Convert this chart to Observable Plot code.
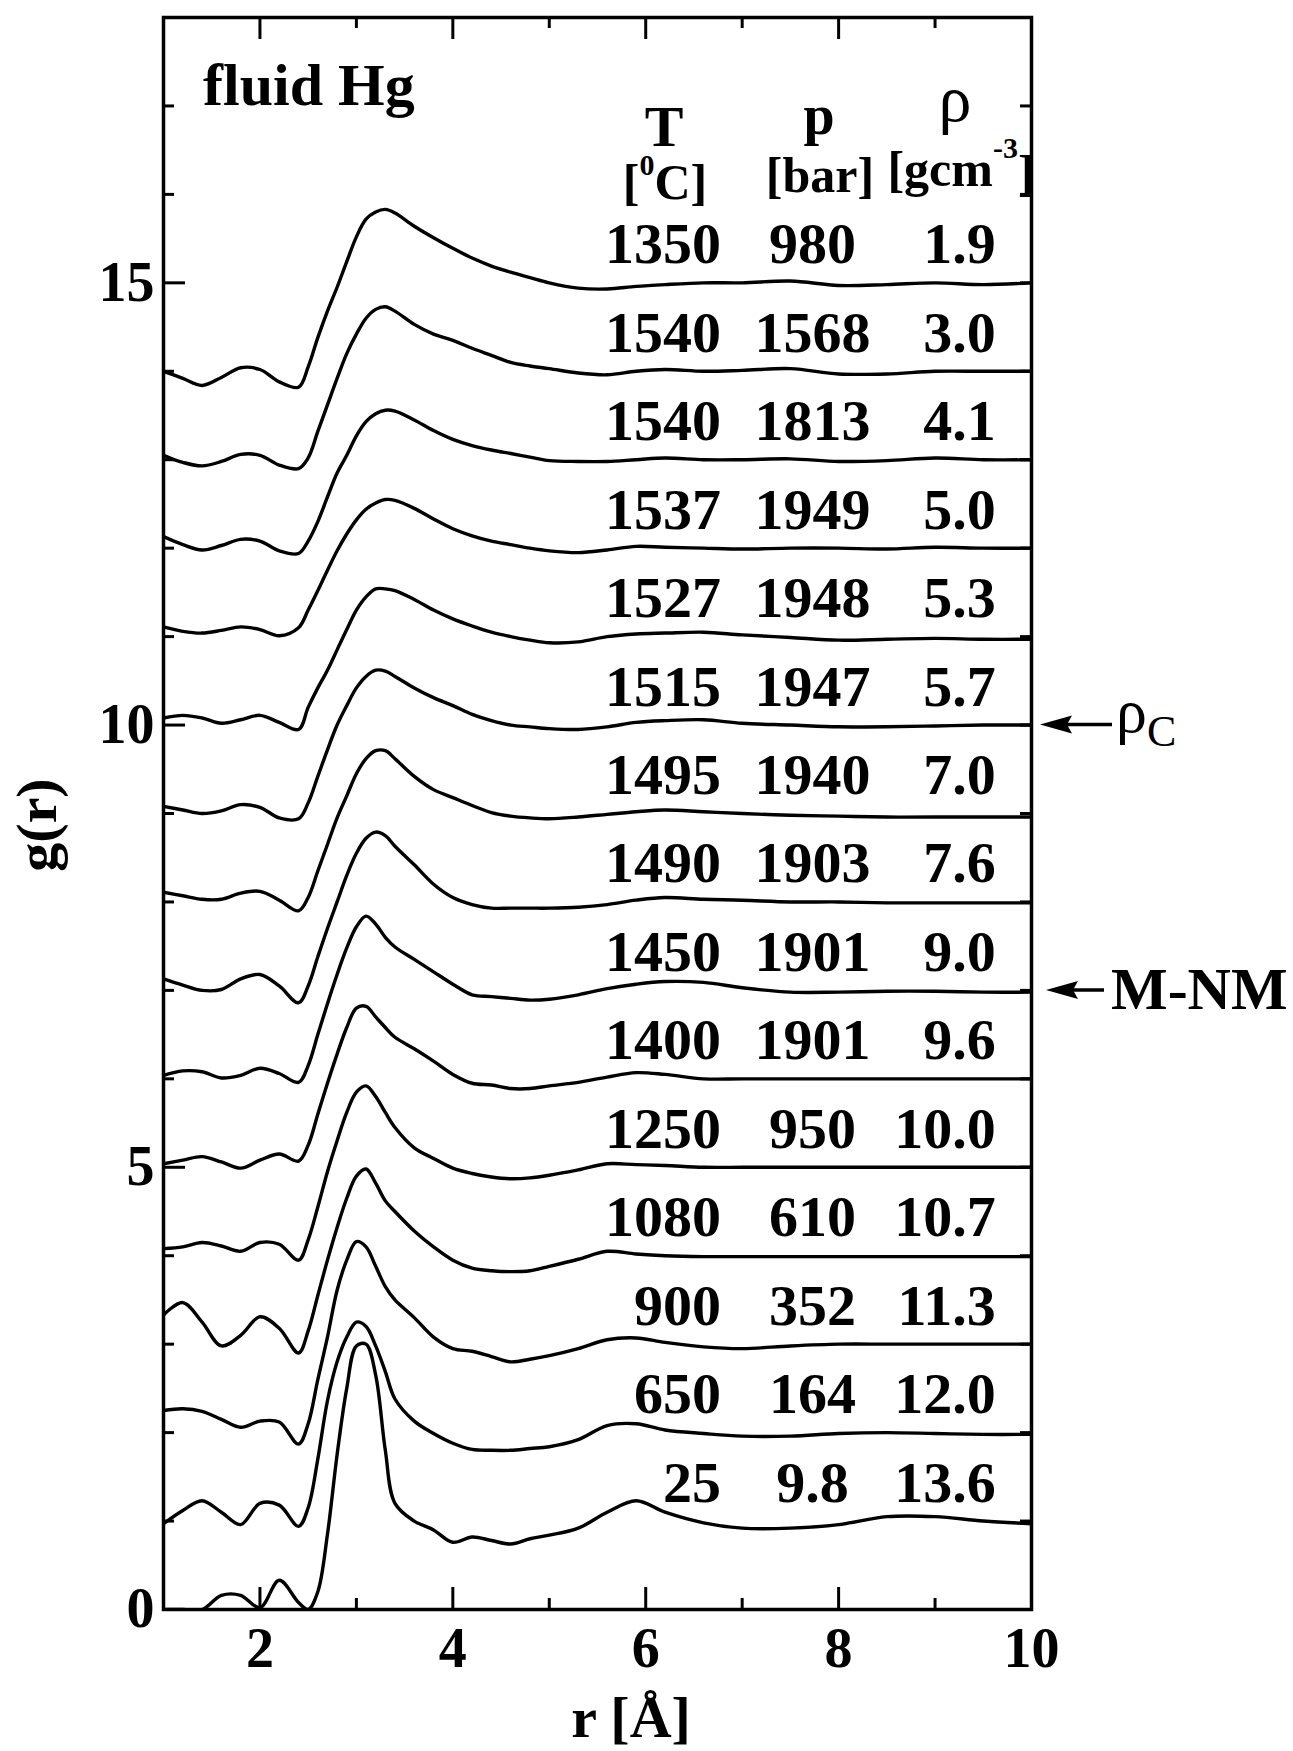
<!DOCTYPE html>
<html><head><meta charset="utf-8">
<script src="https://cdn.jsdelivr.net/npm/d3@7"></script>
<script src="https://cdn.jsdelivr.net/npm/@observablehq/plot@0.6"></script>
<style>html,body{margin:0;padding:0;background:#fff;}</style>
</head><body><div id="chart"></div>
<script>
// shared r grid (Å)
const rGrid = [1.0,1.2,1.4,1.6,1.8,2.0,2.2,2.4, 2.5,2.6,2.7,2.8,2.9,3.0,3.1,3.2,3.3,3.4, 3.6,3.8,4.0,4.2,4.4,4.6,4.8,5.0, 5.3,5.6,5.9,6.2,6.6,7.0, 7.5,8.0,8.5,9.0,9.5,10.0];

// g(r) (unshifted)
const g1350  = [0.00,-0.08,-0.16,-0.07,0.04,0.02,-0.12,-0.18, 0.05,0.38,0.68,0.95,1.24,1.52,1.72,1.80,1.83,1.79, 1.64,1.51,1.39,1.28,1.19,1.12,1.06,1.00, 0.94,0.93,0.96,0.98,1.00,1.00, 1.02,0.97,0.98,1.00,0.98,1.00];
const g1540a = [0.05,-0.03,-0.07,-0.02,0.06,0.05,-0.06,-0.10, 0.02,0.32,0.62,0.92,1.20,1.42,1.60,1.70,1.73,1.68, 1.53,1.42,1.35,1.26,1.18,1.10,1.06,1.03, 0.98,0.96,1.00,1.02,1.00,1.01, 1.03,0.97,0.97,1.00,1.00,1.00];
const g1540b = [0.13,0.04,-0.02,0.03,0.10,0.08,-0.03,-0.06, 0.08,0.30,0.58,0.85,1.05,1.27,1.43,1.52,1.56,1.55, 1.45,1.33,1.23,1.16,1.11,1.07,1.03,0.99, 0.98,0.98,1.00,1.02,1.00,1.00, 1.01,0.98,0.99,1.02,1.00,1.00];
const g1537  = [0.11,0.06,0.04,0.07,0.11,0.08,0.01,0.10, 0.30,0.52,0.75,0.97,1.16,1.32,1.44,1.51,1.55,1.54, 1.45,1.33,1.22,1.14,1.08,1.04,1.00,0.97, 0.95,0.98,1.02,1.01,1.00,0.99, 1.00,1.00,0.99,1.01,1.00,1.00];
const g1527  = [0.08,0.11,0.08,0.02,0.06,0.11,0.03,-0.05, 0.20,0.42,0.62,0.85,1.08,1.30,1.45,1.54,1.54,1.52, 1.42,1.30,1.20,1.12,1.05,1.00,0.96,0.93, 0.94,1.00,1.03,1.04,1.05,1.02, 0.99,0.96,0.97,0.98,0.97,0.97];
const g1515  = [0.08,0.04,0.00,0.03,0.10,0.07,-0.05,-0.06, 0.12,0.42,0.72,1.00,1.22,1.42,1.55,1.62,1.61,1.55, 1.42,1.31,1.22,1.12,1.05,1.00,0.98,0.96, 0.95,0.98,1.03,1.05,1.06,1.02, 1.00,0.98,0.98,0.99,1.00,1.00];
const g1495  = [0.11,0.07,0.03,0.03,0.10,0.12,0.02,-0.10, 0.05,0.35,0.65,0.95,1.20,1.45,1.62,1.71,1.71,1.62, 1.42,1.27,1.18,1.09,1.01,0.97,0.95,0.94, 0.96,0.99,1.02,1.04,1.02,1.00, 0.98,0.97,0.96,0.96,0.96,0.96];
const g1490  = [0.13,0.06,0.00,0.01,0.13,0.18,0.05,-0.14, 0.05,0.38,0.70,1.00,1.30,1.55,1.72,1.79,1.75,1.63, 1.42,1.20,1.05,0.97,0.93,0.93,0.93,0.93, 0.94,0.97,1.02,1.05,1.03,1.02, 1.00,1.00,0.99,0.99,0.99,0.99];
const g1450  = [0.04,0.09,0.08,0.01,0.04,0.12,0.06,-0.04, 0.15,0.50,0.85,1.18,1.48,1.72,1.84,1.75,1.60,1.49, 1.35,1.21,1.07,0.95,0.93,0.91,0.89,0.90, 0.95,1.02,1.07,1.10,1.09,1.03, 0.98,0.98,0.99,0.99,0.98,0.98];
const g1400  = [0.04,0.08,0.12,0.06,-0.01,0.08,0.15,0.07, 0.25,0.60,0.95,1.28,1.58,1.80,1.82,1.70,1.58,1.47, 1.34,1.20,1.05,0.95,0.93,0.89,0.89,0.92, 0.96,1.02,1.07,1.05,1.00,1.00, 1.00,1.00,1.00,1.00,1.00,1.00];
const g1250  = [0.08,0.10,0.15,0.11,0.05,0.15,0.13,-0.05, 0.18,0.55,0.95,1.30,1.62,1.85,1.92,1.80,1.62,1.45, 1.22,1.10,0.99,0.93,0.89,0.87,0.88,0.91, 0.97,1.04,1.03,1.02,1.00,1.00, 1.00,1.00,1.00,1.00,1.00,1.00];
const g1080  = [0.33,0.47,0.25,-0.02,0.10,0.31,0.18,-0.10, 0.15,0.55,0.95,1.32,1.65,1.90,1.98,1.82,1.62,1.50, 1.28,1.10,0.95,0.86,0.83,0.82,0.83,0.88, 0.96,1.05,1.02,1.00,0.99,0.99, 0.99,0.99,0.99,0.99,0.99,0.99];
const g900   = [0.25,0.27,0.24,0.15,0.06,0.13,0.12,-0.13, 0.10,0.60,1.08,1.61,1.95,2.16,2.10,1.88,1.65,1.50, 1.30,1.08,0.95,0.92,0.86,0.80,0.83,0.87, 0.95,1.05,1.07,1.02,0.97,0.95, 0.98,1.00,1.00,1.00,1.00,1.00];
const g650   = [-0.03,0.12,0.23,0.10,-0.04,0.20,0.18,-0.06, 0.15,0.70,1.36,1.80,2.08,2.25,2.20,1.98,1.69,1.38, 1.13,0.99,0.88,0.81,0.80,0.80,0.82,0.84, 0.92,1.08,1.10,1.03,0.99,0.96, 0.96,0.99,1.00,0.99,0.98,0.98];
const g25    = [0.00,0.00,0.00,0.16,0.16,0.02,0.33,0.08, 0.00,0.20,0.85,1.75,2.50,2.98,3.00,2.65,1.80,1.20, 1.00,0.90,0.76,0.82,0.78,0.74,0.80,0.84, 0.92,1.10,1.23,1.10,0.98,0.92, 0.92,0.96,1.05,1.05,1.00,0.97];

// table: T [°C], p [bar], rho [g cm^-3]; vertical shift of each curve
const temperatures = ["1350","1540","1540","1537","1527","1515","1495","1490","1450","1400","1250","1080","900","650","25"];
const pressures    = ["980","1568","1813","1949","1948","1947","1940","1903","1901","1901","950","610","352","164","9.8"];
const densities    = ["1.9","3.0","4.1","5.0","5.3","5.7","7.0","7.6","9.0","9.6","10.0","10.7","11.3","12.0","13.6"];
const shifts       = [14,13,12,11,10,9,8,7,6,5,4,3,2,1,0];
const gSeries = [g1350,g1540a,g1540b,g1537,g1527,g1515,g1495,g1490,g1450,g1400,g1250,g1080,g900,g650,g25];

// axes ticks
const xLabelTicks = [2,4,6,8,10];
const xMinorTicks = [3,5,7,9];
const yLabelTicks = [0,5,10,15];
const yMinorTicks = [1,2,3,4,6,7,8,9,11,12,13,14,16,17];
const yAllTicks = [1,2,3,4,5,6,7,8,9,10,11,12,13,14,15,16,17];

const curveData = gSeries.flatMap((g, i) => g.map((v, j) => ({id: i, r: rGrid[j], v: v + shifts[i]})));
const rows = temperatures.map((t, i) => ({T: t, p: pressures[i], rho: densities[i], base: shifts[i] + 1}));

const W = 1293, H = 1751, mL = 163, mR = 262, mT = 17, mB = 142;
const innerW = W - mL - mR, innerH = H - mT - mB;
const numStyle = {fontSize: 58, fontWeight: "bold", lineAnchor: "bottom", fill: "#000"};

const plot = Plot.plot({
  width: W, height: H,
  marginLeft: mL, marginRight: mR, marginTop: mT, marginBottom: mB,
  style: {fontFamily: "'Liberation Serif','Times New Roman',serif", fontWeight: "bold", color: "#000", background: "#fff"},
  x: {domain: [1, 10]},
  y: {domain: [0, 18]},
  marks: [
    Plot.line(curveData, {x: "r", y: "v", z: "id", curve: "catmull-rom", stroke: "#000", strokeWidth: 3.4, clip: true}),
    // inward ticks
    Plot.tickX(xLabelTicks, {x: d => d, insetTop: innerH - 22, stroke: "#000", strokeWidth: 3}),
    Plot.tickX(xMinorTicks, {x: d => d, insetTop: innerH - 11, stroke: "#000", strokeWidth: 3}),
    Plot.tickX(xLabelTicks, {x: d => d, insetBottom: innerH - 22, stroke: "#000", strokeWidth: 3}),
    Plot.tickX(xMinorTicks, {x: d => d, insetBottom: innerH - 11, stroke: "#000", strokeWidth: 3}),
    Plot.tickY(yLabelTicks, {y: d => d, insetRight: innerW - 22, stroke: "#000", strokeWidth: 3}),
    Plot.tickY(yMinorTicks, {y: d => d, insetRight: innerW - 11, stroke: "#000", strokeWidth: 3}),
    Plot.tickY(yAllTicks, {y: d => d, insetLeft: innerW - 11, stroke: "#000", strokeWidth: 3}),
    Plot.axisX({ticks: xLabelTicks, anchor: "bottom", tickSize: 0, tickPadding: 18, fontSize: 56, fontWeight: "bold", label: null, tickFormat: d => String(d)}),
    Plot.axisY({ticks: yLabelTicks, anchor: "left", tickSize: 0, tickPadding: 9, fontSize: 56, fontWeight: "bold", label: null, tickFormat: d => String(d)}),
    // table
    Plot.text(rows, {x: () => 6.78, y: d => d.base + 0.22, text: "T", textAnchor: "end", ...numStyle}),
    Plot.text(rows, {x: () => 7.73, y: d => d.base + 0.22, text: "p", textAnchor: "middle", ...numStyle}),
    Plot.text(rows, {x: () => 9.63, y: d => d.base + 0.22, text: "rho", textAnchor: "end", ...numStyle}),
    Plot.frame({stroke: "#000", strokeWidth: 3.5})
  ]
});

document.getElementById("chart").appendChild(plot);

// annotations placed through the plot's scales
const sx = plot.scale("x"), sy = plot.scale("y");
const svg = d3.select(plot);
const ann = svg.append("g").attr("fill", "#000");
function txt(x, y, s, size, weight, anchor) {
  return ann.append("text").attr("x", x).attr("y", y).attr("font-size", size)
    .attr("font-weight", weight).attr("text-anchor", anchor || "start").text(s);
}
txt(203, 105, "fluid Hg", 60, "bold");
txt(664, 146, "T", 58, "bold", "middle");
txt(819, 134, "p", 56, "bold", "middle");
txt(955, 121, "ρ", 66, "normal", "middle");
// [°C]
{
  const t = ann.append("text").attr("x", 665).attr("y", 199).attr("font-size", 50).attr("font-weight", "bold").attr("text-anchor", "middle");
  t.append("tspan").text("[");
  t.append("tspan").attr("font-size", 30).attr("dy", -24).text("0");
  t.append("tspan").attr("dy", 24).text("C]");
}
txt(820, 192, "[bar]", 50, "bold", "middle");
{
  const t = ann.append("text").attr("x", 961).attr("y", 186).attr("font-size", 50).attr("font-weight", "bold").attr("text-anchor", "middle");
  t.append("tspan").text("[gcm");
  t.append("tspan").attr("font-size", 30).attr("dy", -28).text("-3");
  t.append("tspan").attr("dy", 32).text("]");
}
// arrows to the critical density and metal-nonmetal transition
function arrow(yv, tipGap, len) {
  const y = sy.apply(yv), x0 = sx.apply(10) + tipGap;
  ann.append("line").attr("x1", x0 + 20).attr("x2", x0 + len).attr("y1", y).attr("y2", y)
    .attr("stroke", "#000").attr("stroke-width", 3.5);
  ann.append("path").attr("d", `M${x0},${y}L${x0 + 32},${y - 9}L${x0 + 27},${y}L${x0 + 32},${y + 9}Z`);
  return y;
}
const yc = arrow(10, 9, 72);
txt(1116, yc + 7, "ρ", 62, "normal");
txt(1147, yc + 21, "C", 44, "normal");
const ym = arrow(7, 15, 58);
txt(1111, ym + 19, "M-NM", 60, "bold");
// axis titles
ann.append("text").attr("transform", "translate(56,825) rotate(-90)").attr("font-size", 58)
  .attr("font-weight", "bold").attr("text-anchor", "middle").text("g(r)");
txt(631, 1737, "r [Å]", 58, "bold", "middle");
</script></body></html>
